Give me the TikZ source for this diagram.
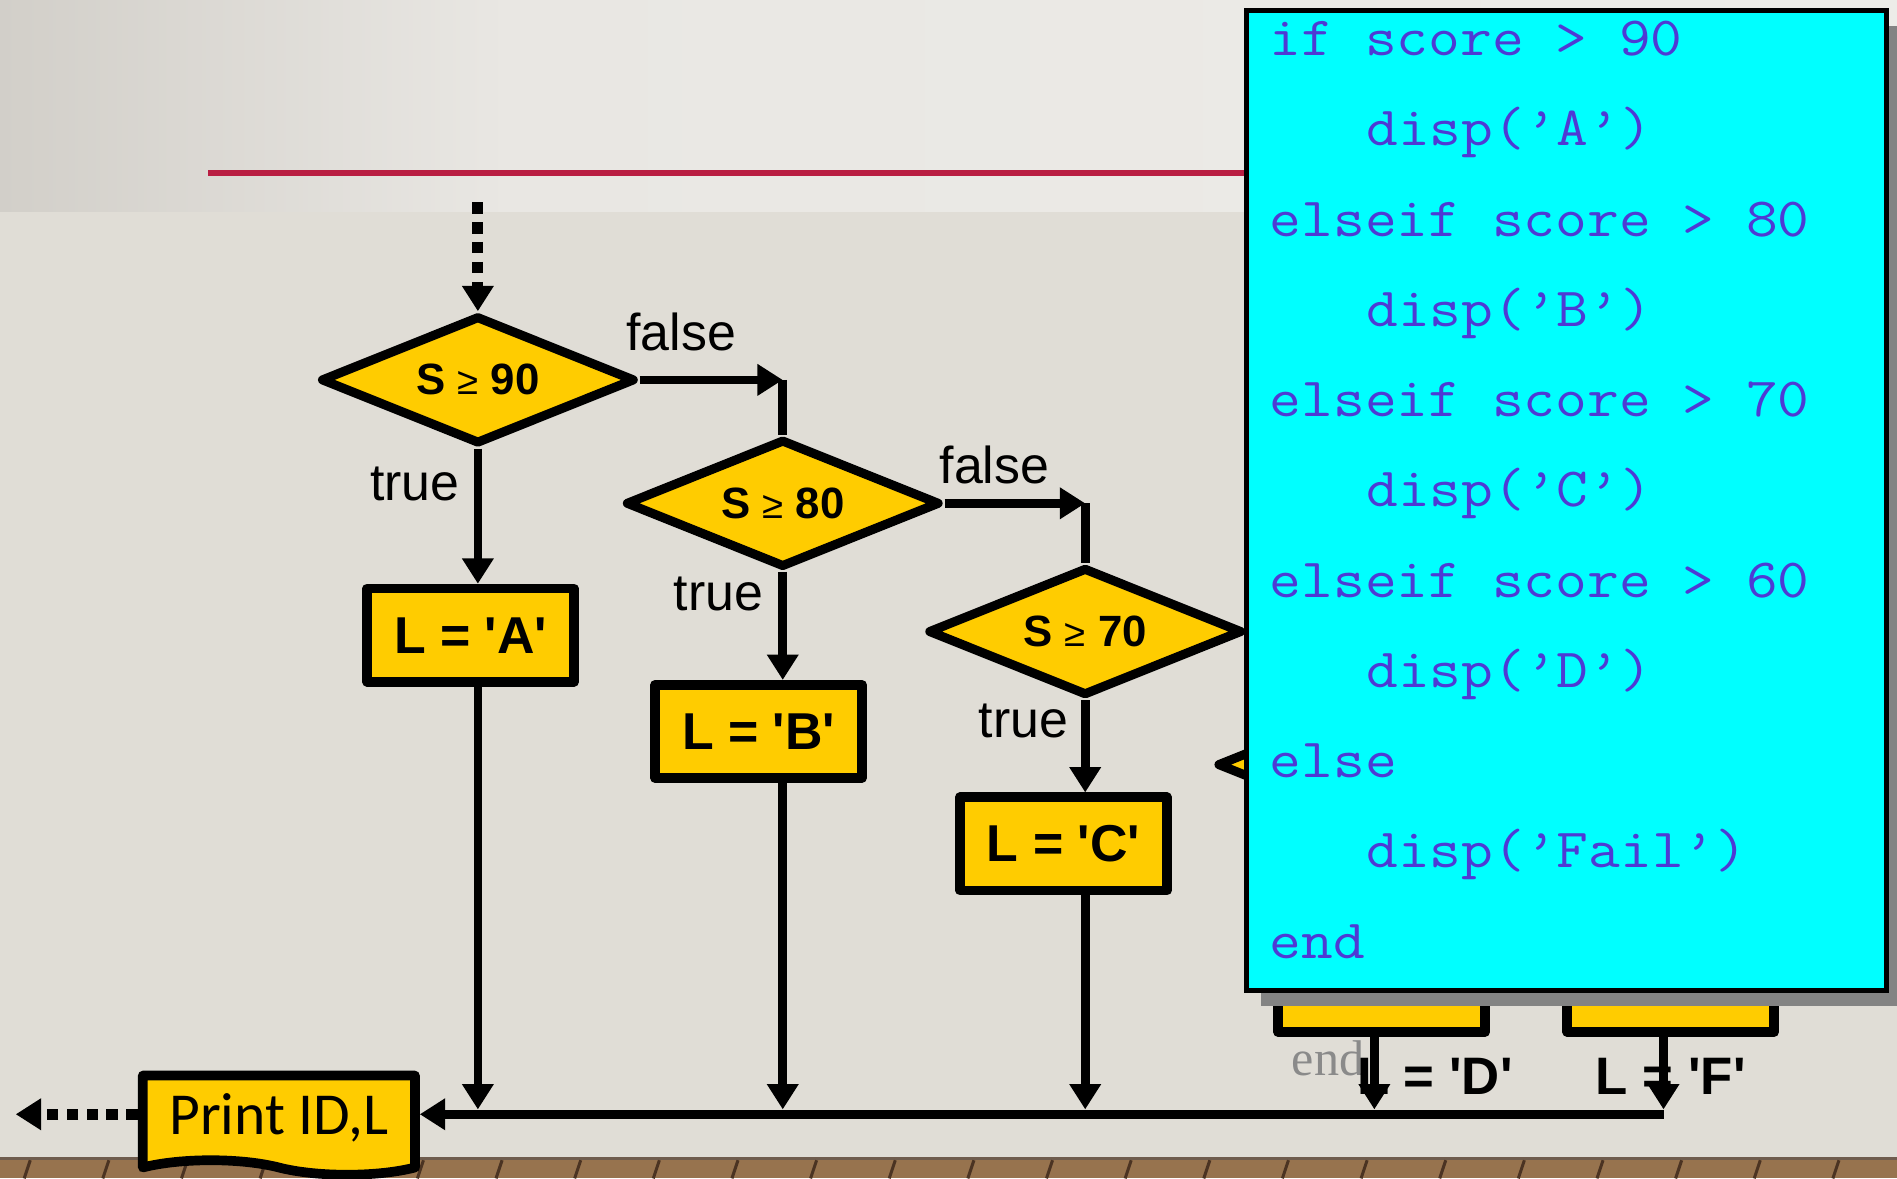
\documentclass[tikz,border=0pt]{standalone}
\usepackage{fontspec}
\setmainfont{Liberation Sans}
\newfontfamily\printfont{Carlito}
\newfontfamily\endfont{Liberation Serif}
\usetikzlibrary{shapes.geometric,shapes.symbols,arrows.meta,positioning,calc,shadows}

\definecolor{gold}{HTML}{FFCC00}
\definecolor{codecyan}{HTML}{00FFFF}
\definecolor{codeblue}{RGB}{78,58,212}
\definecolor{titlered}{HTML}{B91E42}
\definecolor{wallgray}{HTML}{E0DDD6}
\definecolor{bandleft}{HTML}{D2CFC9}
\definecolor{bandmid}{HTML}{E9E7E3}
\definecolor{bandright}{HTML}{EDECE8}
\definecolor{wood}{HTML}{97734E}
\definecolor{woodseam}{HTML}{4B3322}
\definecolor{shadowgray}{HTML}{838383}
\definecolor{faintgray}{HTML}{8A8A8A}

\newcommand{\sq}{\XeTeXglyph\XeTeXcharglyph"27\relax}
\newcommand{\geqsym}{{\mdseries\fontsize{9}{9}\selectfont ≥}}

\begin{document}
\begin{tikzpicture}[x=0.1mm, y=-0.1mm,
    flow/.style={line width=0.72mm, -{Triangle[length=2.1mm,width=2.5mm]}},
    dotflow/.style={flow, line width=0.9mm, dash pattern=on 0.95mm off 0.7mm},
    wire/.style={line width=0.72mm},
    decision/.style={diamond, draw, fill=gold, line width=0.75mm, line join=round, aspect=2.45,
        minimum width=26mm, minimum height=10.6mm, inner sep=0pt, font=\fontsize{10.3}{12}\selectfont\bfseries},
    assign/.style={rectangle, draw, fill=gold, line width=0.8mm, line join=round,
        minimum width=17.1mm, minimum height=7.7mm, inner sep=0pt, font=\fontsize{12.2}{14}\selectfont\bfseries},
    printbox/.style={tape, tape bend top=none, tape bend bottom=out and in, tape bend height=1.2mm,
        draw, fill=gold, line width=0.8mm, line join=round, minimum width=22.5mm, minimum height=8.2mm,
        inner sep=0pt, font=\printfont\fontsize{14}{16}\selectfont},
    branchlbl/.style={inner sep=0pt, font=\fontsize{12.2}{14}\selectfont},
    codeline/.style={anchor=base west, inner sep=0pt, text=codeblue, font=\ttfamily\fontsize{13}{15}\selectfont}]
    \useasboundingbox (0,0) rectangle (1568,974);

    % Background
    \fill[wallgray] (0,0) rectangle (1568,974);
    \shade[left color=bandleft, right color=bandmid] (0,0) rectangle (420,175);
    \shade[left color=bandmid, right color=bandright] (420,0) rectangle (1568,175);
    \fill[wood] (0,956) rectangle (1568,974);
    \fill[woodseam!80] (0,956) rectangle (1568,959);
    \foreach \x in {20,85,...,1568}
        \draw[woodseam, line width=0.25mm] (\x+5,959) -- (\x,974);
    \draw[titlered, line width=0.54mm] (172,143) -- (1030,143);

    % Decisions
    \node[decision] (d1) at (395,314) {S \geqsym{} 90};
    \node[decision] (d2) at (647,416) {S \geqsym{} 80};
    \node[decision] (d3) at (897,522) {S \geqsym{} 70};
    \node[decision] (d4) at (1136,632) {};

    % Assignments
    \node[assign] (la) at (389,525) {L = \sq A\sq};
    \node[assign] (lb) at (627,604.5) {L = \sq B\sq};
    \node[assign] (lc) at (879,697.5) {L = \sq C\sq};
    \node[assign] (ld) at (1142,814.5) {};
    \node[assign] (lf) at (1381,814.5) {};
    \node[printbox] (print) at (230.5,924) {Print ID,L};

    % Branch labels
    \node[branchlbl] (f1) at (563,274) {false};
    \node[branchlbl] (f2) at (822,384) {false};
    \node[branchlbl] (t1) at (343,400) {true};
    \node[branchlbl] (t2) at (594,491) {true};
    \node[branchlbl] (t3) at (846,596) {true};

    % Loose texts under the code box
    \node[anchor=base west, inner sep=0pt, text=faintgray, font=\endfont\fontsize{11.8}{13}\selectfont] (stray) at (1067,889) {end};
    \node[anchor=base, inner sep=0pt, font=\fontsize{12.4}{14}\selectfont\bfseries] (txtd) at (1186,905) {L = \sq D\sq};
    \node[anchor=base, inner sep=0pt, font=\fontsize{12.4}{14}\selectfont\bfseries] (txtf) at (1381,905) {L = \sq F\sq};

    \coordinate (entry) at (395,167);
    \coordinate (exit) at (13,921);
    \coordinate (bus) at (1375,921);
    \coordinate (bustop) at (1375,917);

    % Connectors
    \draw[dotflow] (entry) -- (d1.north);
    \draw[flow] (d1.south) -- (la.north -| d1);
    \draw[flow] (d1.east) -- (d1.east -| d2);
    \draw[wire] (d1.east -| d2) -- (d2.north);
    \draw[flow] (d2.south) -- (lb.north -| d2);
    \draw[flow] (d2.east) -- (d2.east -| d3);
    \draw[wire] (d2.east -| d3) -- (d3.north);
    \draw[flow] (d3.south) -- (lc.north -| d3);
    \draw[flow] (la.south -| d1) -- (bustop -| d1);
    \draw[flow] (lb.south -| d2) -- (bustop -| d2);
    \draw[flow] (lc.south -| d3) -- (bustop -| d3);
    \draw[flow] (ld.south -| d4) -- (bustop -| d4);
    \draw[flow] (lf.south -| bus) -- (bustop);
    \draw[flow] (bus) -- (print.east |- bus);
    \draw[dotflow] (print.west |- bus) -- (exit);

    % Code box
    \node[draw, fill=codecyan, line width=0.45mm, minimum width=52.9mm, minimum height=81mm,
        drop shadow={shadow xshift=1.2mm, shadow yshift=-1.3mm, fill=shadowgray, opacity=1}] (code) at (1295,413.5) {};
    \foreach \ind/\txt [count=\k from 0] in {0/if score > 90, 1/disp(’A’), 0/elseif score > 80, 1/disp(’B’),
        0/elseif score > 70, 1/disp(’C’), 0/elseif score > 60, 1/disp(’D’), 0/else, 1/disp(’Fail’), 0/end}
        \node[codeline] (code\k) at ({1049+79.8*\ind},{46+74.6*\k}) {\scalebox{1.115}[1]{\txt}};
\end{tikzpicture}
\end{document}
